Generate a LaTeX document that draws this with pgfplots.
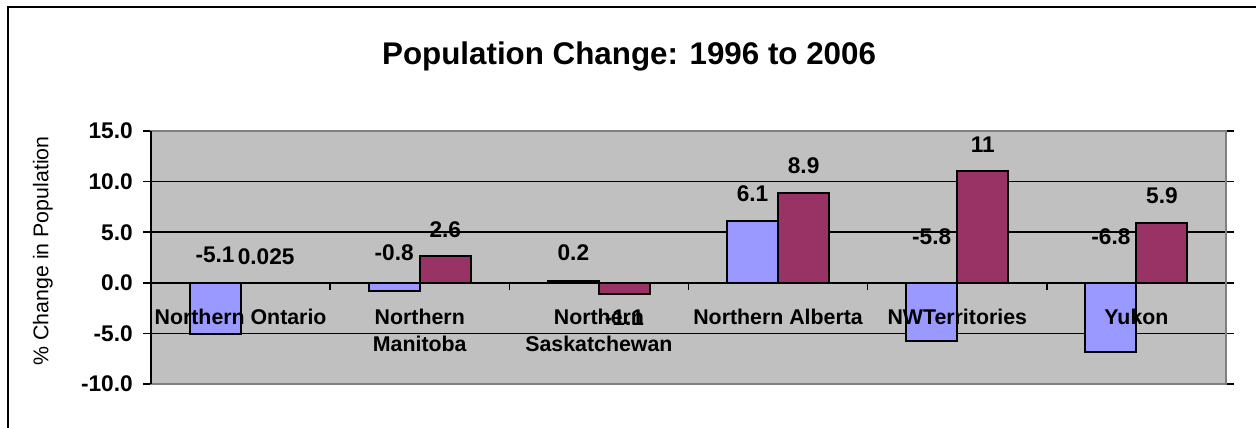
\documentclass[border=0pt]{standalone}
\usepackage{fontspec}
\setmainfont{Liberation Sans}
\usepackage{pgfplots}
\pgfplotsset{compat=1.18}
\definecolor{barblue}{HTML}{9999FF}
\definecolor{barplum}{HTML}{993366}
\definecolor{plotgray}{HTML}{C0C0C0}
\definecolor{framegray}{HTML}{808080}

\pgfplotsset{
  plotbox/.style={
    at={(0,0)}, anchor=south west,
    scale only axis, width=806.25pt, height=189.75pt,
    xmin=-0.5, xmax=5.5, ymin=-10, ymax=15,
  },
}

\begin{document}
\begin{tikzpicture}
  % page = 1256x428 px, 1px = 0.75pt, origin at the plot area's lower left
  \useasboundingbox (-113.25pt,-33pt) rectangle (828.75pt,288pt);
  \draw[line width=1.5pt] (-107.25pt,-60pt) -- (-107.25pt,282.4pt) -- (860pt,282.4pt);

  \begin{axis}[
    plotbox,
    ytick={-10,-5,...,15},
    xtick=\empty,
    ytick style={draw=black, line width=1.1pt},
    tick align=outside, major tick length=6pt,
    axis line style={draw=none},
    axis background/.style={fill=plotgray},
    ymajorgrids, grid style={black, line width=1.1pt},
    /pgf/number format/.cd, fixed, fixed zerofill, precision=1, assume math mode=true,
    /pgfplots/.cd,
    yticklabel style={font=\bfseries\fontsize{17}{19}\selectfont, anchor=east, inner sep=0pt, xshift=-7.5pt},
    ylabel={\% Change in Population},
    ylabel style={font=\fontsize{16}{19}\selectfont, at={(axis description cs:-0.1005,0.526)}, anchor=center},
    title={\bfseries Population Change: 1996 to 2006},
    every axis title shift=0pt,
    title style={font=\fontsize{23.5}{28}\selectfont, at={(axis description cs:0.4447,1.2636)}, anchor=base},
    clip=false,
  ]
  \addplot[ybar, bar width=0.285, bar shift=-0.1425, fill=barblue, draw=black, line width=1.5pt]
    coordinates {(0,-5.1) (1,-0.8) (2,0.2) (3,6.1) (4,-5.8) (5,-6.8)};
  \addplot[ybar, bar width=0.285, bar shift=0.1425, fill=barplum, draw=black, line width=1.5pt]
    coordinates {(0,0.025) (1,2.6) (2,-1.1) (3,8.9) (4,11) (5,5.9)};

  % data labels, at the places the reference shows them
  \addplot[only marks, mark=none, forget plot, point meta=explicit symbolic,
    nodes near coords, nodes near coords align=center,
    every node near coord/.append style={anchor=center, font=\bfseries\fontsize{17}{19}\selectfont}]
    coordinates {
      (-0.1425,2.74) [-5.1]  (0.8575,3.0) [-0.8]  (1.8575,2.94) [0.2]
      (2.8575,8.78) [6.1]    (3.8575,4.52) [-5.8] (4.8575,4.52) [-6.8]
      (0.1425,2.54) [0.025]  (1.1425,5.22) [2.6]  (2.1425,-3.49) [-1.1]
      (3.1425,11.55) [8.9]   (4.1425,13.64) [11]  (5.1425,8.58) [5.9]
    };

  \pgfplotsinvokeforeach{0.5,1.5,2.5,3.5,4.5,5.5}{
    \draw[line width=1.1pt] (axis cs:#1,0) -- (axis cs:#1,-0.69);
  }
  \draw[framegray, line width=1.5pt] (rel axis cs:0,0) rectangle (rel axis cs:1,1);
  \draw[black, line width=1.5pt] (rel axis cs:0,0) -- (rel axis cs:0,1);
  \end{axis}

  % second axis on the same box: category names, drawn over the bars
  \begin{axis}[
    plotbox,
    axis line style={draw=none},
    ytick=\empty,
    xtick={0,...,5},
    xticklabels={Northern Ontario, {Northern\\Manitoba}, {Northern\\Saskatchewan},
                 Northern Alberta, NWTerritories, Yukon},
    xtick style={draw=none},
    xticklabel style={font=\bfseries\fontsize{16}{20.25}\selectfont, align=center, anchor=north, inner sep=0pt, yshift=56.5pt},
  ]
  \end{axis}
\end{tikzpicture}
\end{document}
